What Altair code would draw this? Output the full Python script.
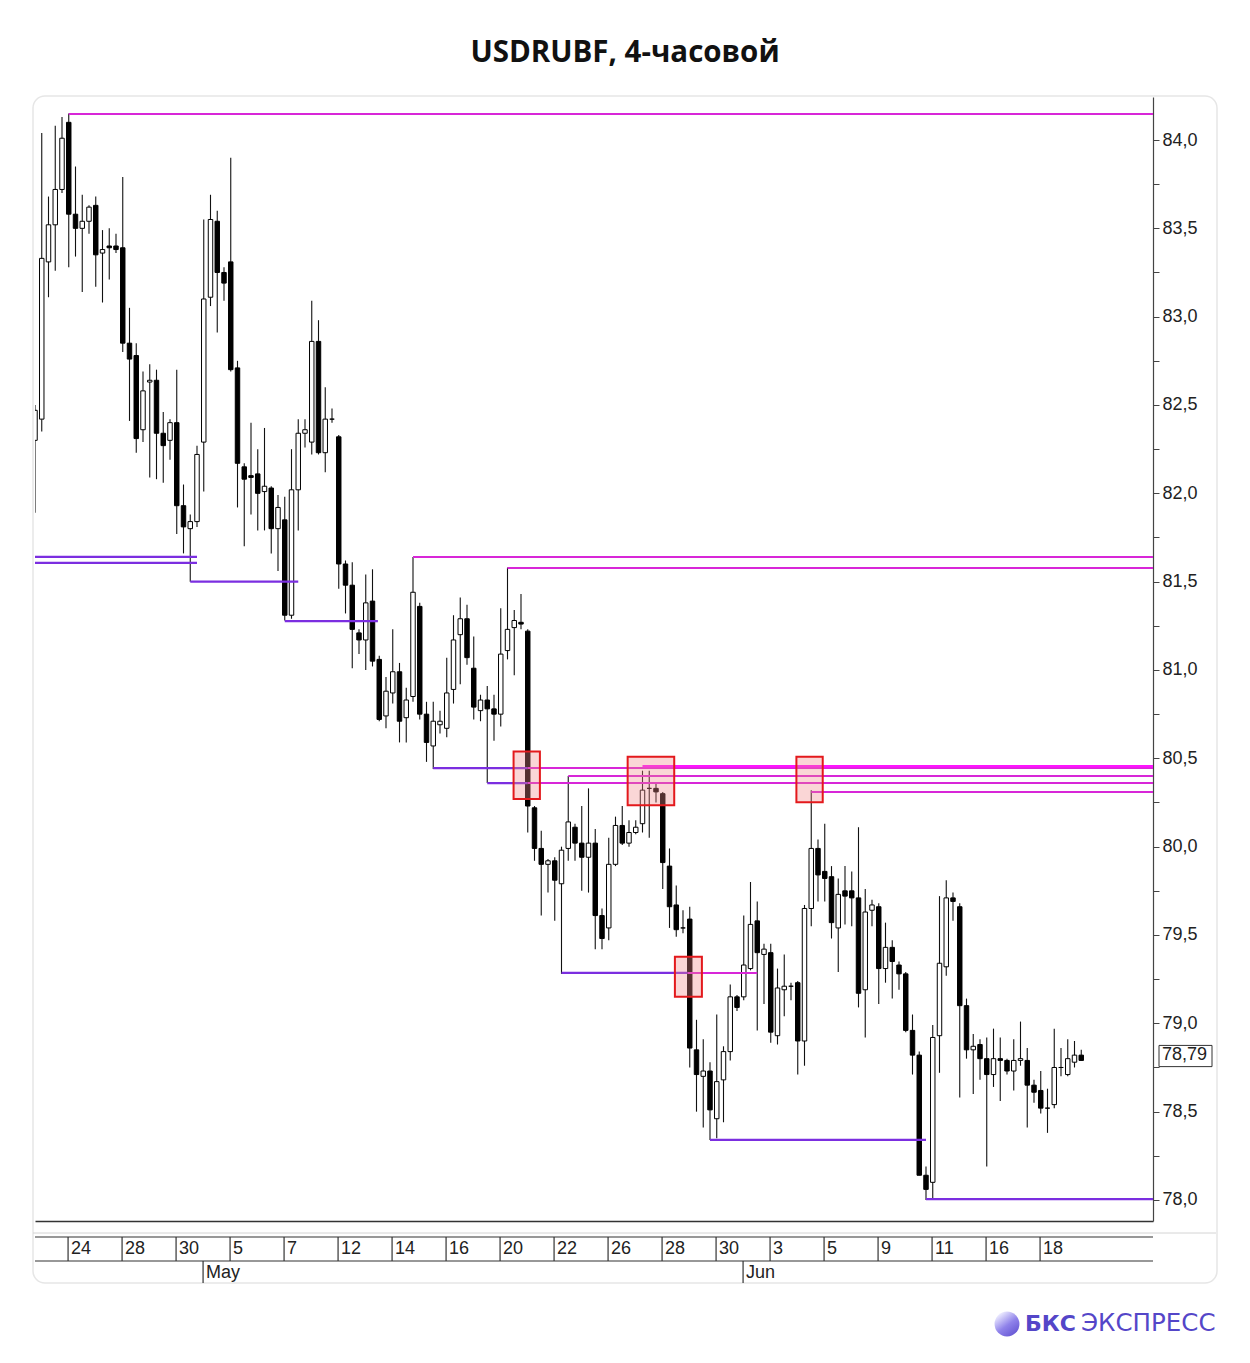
import altair as alt
import pandas as pd

# ---------------- data (4-hour candles) ----------------
opens = [82.30, 82.42, 83.31, 83.52, 83.72, 84.10, 83.58, 83.50, 83.54, 83.63,
         83.36, 83.40, 83.40, 83.39, 82.85, 82.78, 82.36, 82.63, 82.64, 82.34,
         82.30, 82.40, 81.93, 81.80, 81.84, 82.29, 83.11, 83.54, 83.25, 83.31,
         82.71, 82.15, 82.10, 82.11, 82.01, 82.03, 81.80, 81.85, 81.31, 82.02,
         82.34, 82.29, 82.86, 82.23, 82.42, 82.32, 81.60, 81.48, 81.21, 81.17,
         81.39, 81.06, 80.74, 80.87, 80.99, 80.73, 80.85, 81.36, 80.75, 80.57,
         80.69, 80.67, 80.89, 81.20, 81.29, 81.01, 80.77, 80.83, 80.78, 80.75,
         81.11, 81.24, 81.27, 81.22, 80.22, 79.99, 79.90, 79.92, 79.79, 79.99,
         80.11, 80.02, 79.94, 80.02, 79.61, 79.54, 79.90, 80.12, 80.02, 80.08,
         80.13, 80.33, 80.33, 80.30, 79.89, 79.67, 79.54, 79.59, 78.85, 78.70,
         78.73, 78.46, 78.68, 78.84, 79.15, 79.15, 79.31, 79.58, 79.39, 79.40,
         78.93, 79.19, 79.21, 79.23, 78.90, 79.65, 79.99, 79.86, 79.83, 79.54,
         79.75, 79.75, 79.71, 79.19, 79.64, 79.66, 79.31, 79.43, 79.33, 79.28,
         78.96, 78.82, 78.14, 78.10, 78.93, 79.32, 79.71, 79.66, 79.10, 78.85,
         78.88, 78.80, 78.71, 78.80, 78.79, 78.73, 78.79, 78.79, 78.65, 78.62,
         78.52, 78.54, 78.75, 78.71, 78.78, 78.82]
highs = [82.50, 84.04, 83.68, 84.08, 84.13, 84.15, 83.85, 83.69, 83.63, 83.68,
         83.49, 83.50, 83.47, 83.79, 83.05, 82.85, 82.69, 82.73, 82.70, 82.46,
         82.42, 82.70, 82.05, 81.88, 82.27, 83.55, 83.69, 83.60, 83.28, 83.90,
         82.75, 82.17, 82.40, 82.25, 82.37, 82.04, 81.99, 81.98, 82.25, 82.42,
         82.42, 83.09, 82.98, 82.60, 82.48, 82.33, 81.62, 81.61, 81.23, 81.54,
         81.57, 81.08, 80.96, 81.23, 81.04, 80.90, 81.64, 81.38, 80.82, 80.82,
         80.77, 81.07, 81.31, 81.41, 81.37, 81.19, 80.86, 80.91, 80.86, 81.35,
         81.58, 81.34, 81.43, 81.23, 80.23, 80.09, 79.93, 79.94, 80.00, 80.40,
         80.13, 80.23, 80.33, 80.10, 79.65, 80.05, 80.17, 80.23, 80.15, 80.15,
         80.43, 80.43, 80.36, 80.31, 79.99, 79.78, 79.64, 79.66, 79.02, 78.91,
         78.78, 79.05, 78.87, 79.22, 79.16, 79.61, 79.80, 79.69, 79.45, 79.45,
         79.31, 79.39, 79.23, 79.24, 79.67, 80.32, 80.04, 80.13, 79.89, 79.82,
         79.89, 79.86, 80.11, 79.76, 79.70, 79.68, 79.57, 79.47, 79.35, 79.29,
         79.05, 78.84, 78.19, 78.99, 79.72, 79.81, 79.74, 79.68, 79.14, 78.94,
         78.91, 78.92, 78.97, 78.92, 78.80, 78.91, 79.01, 78.86, 78.68, 78.73,
         78.63, 78.97, 78.86, 78.91, 78.90, 78.85]
lows = [81.89, 82.35, 83.11, 83.26, 83.70, 83.28, 83.34, 83.14, 83.47, 83.17,
        83.08, 83.21, 83.36, 82.80, 82.41, 82.23, 82.29, 82.09, 82.08, 82.06,
        82.19, 81.77, 81.66, 81.50, 81.81, 82.01, 83.06, 82.91, 83.09, 82.69,
        81.92, 81.70, 81.88, 81.79, 81.79, 81.66, 81.56, 81.28, 81.29, 81.79,
        82.26, 82.22, 82.22, 82.12, 82.40, 81.46, 81.32, 81.01, 81.09, 81.00,
        81.02, 80.71, 80.67, 80.81, 80.59, 80.59, 80.82, 80.72, 80.48, 80.44,
        80.64, 80.62, 80.81, 80.92, 81.03, 80.72, 80.71, 80.36, 80.60, 80.68,
        81.06, 80.97, 81.23, 80.08, 79.92, 79.61, 79.74, 79.58, 79.28, 79.92,
        79.92, 79.75, 79.74, 79.42, 79.42, 79.47, 79.89, 80.01, 80.00, 80.07,
        80.08, 80.05, 80.25, 79.76, 79.54, 79.49, 79.51, 78.75, 78.50, 78.41,
        78.34, 78.35, 78.44, 78.79, 79.07, 79.13, 79.30, 78.96, 79.11, 78.89,
        78.88, 79.04, 79.13, 78.71, 78.76, 79.55, 79.69, 79.69, 79.48, 79.29,
        79.56, 79.55, 79.09, 78.92, 79.55, 79.11, 79.23, 79.14, 79.19, 78.95,
        78.71, 78.14, 78.00, 78.00, 78.72, 79.27, 79.58, 78.58, 78.80, 78.60,
        78.68, 78.19, 78.64, 78.56, 78.71, 78.62, 78.76, 78.41, 78.55, 78.49,
        78.38, 78.52, 78.70, 78.70, 78.75, 78.79]
closes = [82.47, 83.33, 83.52, 83.72, 84.01, 83.58, 83.50, 83.54, 83.62, 83.35,
          83.38, 83.39, 83.38, 82.85, 82.76, 82.31, 82.58, 82.64, 82.34, 82.27,
          82.40, 81.93, 81.81, 81.84, 82.22, 83.10, 83.55, 83.25, 83.19, 82.70,
          82.17, 82.08, 82.09, 82.00, 82.04, 81.80, 81.92, 81.31, 82.02, 82.34,
          82.36, 82.86, 82.23, 82.42, 82.42, 81.60, 81.48, 81.23, 81.17, 81.38,
          81.05, 80.72, 80.88, 80.99, 80.71, 80.83, 81.44, 80.75, 80.59, 80.71,
          80.71, 80.87, 81.17, 81.29, 81.07, 80.79, 80.83, 80.78, 80.75, 81.09,
          81.23, 81.28, 81.26, 80.23, 79.99, 79.90, 79.92, 79.81, 79.98, 80.14,
          80.02, 79.94, 80.02, 79.61, 79.48, 79.90, 80.12, 80.02, 80.08, 80.11,
          80.32, 80.33, 80.31, 79.91, 79.66, 79.53, 79.54, 78.86, 78.71, 78.73,
          78.51, 78.67, 78.84, 79.15, 79.09, 79.33, 79.56, 79.40, 79.42, 78.95,
          79.20, 79.21, 79.21, 78.90, 79.65, 79.99, 79.84, 79.82, 79.57, 79.73,
          79.72, 79.71, 79.17, 79.63, 79.67, 79.31, 79.43, 79.35, 79.28, 78.96,
          78.82, 78.14, 78.06, 78.92, 79.34, 79.71, 79.69, 79.10, 78.85, 78.87,
          78.80, 78.71, 78.80, 78.79, 78.73, 78.79, 78.80, 78.65, 78.61, 78.52,
          78.52, 78.75, 78.75, 78.80, 78.82, 78.79]

# horizontal levels: price, first candle, last position, kind
level_price = [84.147, 81.640, 81.606, 81.500, 81.277, 81.640, 81.577, 80.445, 80.445,
               80.455, 80.400, 80.360, 80.360, 80.310, 79.285, 79.285, 78.340, 78.005]
level_start = [5, 0, 0, 23, 37, 56, 70, 59, 73, 90, 79, 67, 73, 115, 78, 96.7, 100, 132]
level_end = [165.63, 24, 24, 39, 50.8, 165.63, 165.63, 73, 165.63, 165.63, 165.63, 73,
             165.63, 165.63, 96.7, 107, 132, 165.63]
level_kind = ["res", "sup", "sup", "sup", "sup", "res", "res", "sup", "res",
              "strong", "res", "sup", "res", "res", "sup", "res", "sup", "sup"]

# highlighted zones
box_x1 = [70.9, 87.8, 112.8, 94.8]
box_x2 = [74.8, 94.7, 116.7, 98.8]
box_hi = [80.538, 80.509, 80.509, 79.377]
box_lo = [80.270, 80.234, 80.251, 79.151]

# date axis
tick_pos = [4.9, 12.9, 20.9, 28.9, 36.9, 44.9, 52.9, 60.9, 68.9, 76.9, 84.9, 92.9,
            100.9, 108.9, 116.9, 124.9, 132.9, 140.9, 148.9]
tick_labels = ["24", "28", "30", "5", "7", "12", "14", "16", "20", "22", "26", "28",
               "30", "3", "5", "9", "11", "16", "18"]
month_pos = [24.9, 104.9]
month_labels = ["May", "Jun"]

y_ticks = [78.0, 78.25, 78.5, 78.75, 79.0, 79.25, 79.5, 79.75, 80.0, 80.25, 80.5,
           80.75, 81.0, 81.25, 81.5, 81.75, 82.0, 82.25, 82.5, 82.75, 83.0, 83.25,
           83.5, 83.75, 84.0, 84.25]
last_price = 78.79
title_text = "USDRUBF, 4-часовой"

# ---------------- frames ----------------
candles = pd.DataFrame({"i": list(range(len(opens))), "open": opens, "high": highs,
                        "low": lows, "close": closes})
levels = pd.DataFrame({"p": level_price, "s": level_start, "e": level_end, "kind": level_kind})
boxes = pd.DataFrame({"x1": box_x1, "x2": box_x2, "hi": box_hi, "lo": box_lo})
ticks = pd.DataFrame({"pos": tick_pos, "lbl": tick_labels})
months = pd.DataFrame({"pos": month_pos, "lbl": month_labels})
one = pd.DataFrame({"k": [0]})

W, H = 1118, 1124
xs = alt.Scale(domain=[0, 165.63], nice=False, zero=False)
ys = alt.Scale(domain=[77.8811, 84.2434], nice=False, zero=False)

x_axis = alt.Axis(domain=True, domainColor="#333333", domainWidth=1.5, ticks=False,
                  labels=False, grid=False, title=None)
y_axis = alt.Axis(orient="right", values=y_ticks,
                  labelExpr="(datum.value * 4) % 2 == 0 ? replace(format(datum.value, '.1f'), '.', ',') : ''",
                  tickSize=6, tickColor="#444444", domainColor="#444444", domainWidth=1.2,
                  labelFont="Liberation Sans", labelFontSize=18, labelColor="#222222",
                  labelPadding=3, labelOverlap=False, labelFlush=False, grid=False, title=None)


def X(field):
    return alt.X(field, scale=xs, axis=x_axis, title=None)


def Y(field):
    return alt.Y(field, scale=ys, axis=y_axis, title=None)


panel = alt.Chart(one).mark_rect(fillOpacity=0, stroke="#e6e6e6", strokeWidth=1.5,
                                 cornerRadius=12).encode(
    x=alt.value(-2), x2=alt.value(1182), y=alt.value(-1), y2=alt.value(1186))

wicks = alt.Chart(candles).mark_rule(color="#111111", strokeWidth=1.1, clip=True).encode(
    x=X("i:Q"), y=Y("low:Q"), y2="high:Q")

bodies = alt.Chart(candles).transform_calculate(
    a="datum.i - 0.33", b="datum.i + 0.33"
).mark_rect(stroke="#000000", strokeWidth=1, clip=True).encode(
    x=X("a:Q"), x2="b:Q", y=Y("open:Q"), y2="close:Q",
    fill=alt.condition("datum.close >= datum.open", alt.value("#ffffff"), alt.value("#000000")))

lines = alt.Chart(levels).mark_rule().encode(
    x=X("s:Q"), x2="e:Q", y=Y("p:Q"),
    color=alt.Color("kind:N", scale=alt.Scale(domain=["res", "sup", "strong"],
                                              range=["#d826d8", "#7b2ee0", "#ff14ff"]), legend=None),
    size=alt.Size("kind:N", scale=alt.Scale(domain=["res", "sup", "strong"], range=[2, 2.5, 4]),
                  legend=None))

zones = alt.Chart(boxes).mark_rect(fill="#f08a8a", fillOpacity=0.35, stroke="#e3191c",
                                   strokeWidth=2).encode(
    x=X("x1:Q"), x2="x2:Q", y=Y("lo:Q"), y2="hi:Q")

price_df = pd.DataFrame({"p": [last_price]})
price_box = alt.Chart(price_df).transform_calculate(
    lo="datum.p - 0.035", hi="datum.p + 0.085"
).mark_rect(fillOpacity=0, stroke="#333333", strokeWidth=1).encode(
    x=alt.value(1124), x2=alt.value(1177), y=Y("lo:Q"), y2="hi:Q")
price_txt = alt.Chart(price_df).transform_calculate(
    lbl="replace(format(datum.p, '.2f'), '.', ',')"
).mark_text(align="left", baseline="middle", font="Liberation Sans", fontSize=18,
            color="#222222", dy=-5).encode(
    x=alt.value(1127), y=Y("p:Q"), text="lbl:N")

# date strip
strip_light = alt.Chart(one).mark_rule(color="#d4d4d4", strokeWidth=1).encode(
    x=alt.value(-2), x2=alt.value(1181), y=alt.value(1136))
strip_top = alt.Chart(one).mark_rule(color="#333333", strokeWidth=1.2).encode(
    x=alt.value(0), x2=alt.value(W), y=alt.value(1140))
strip_mid = alt.Chart(one).mark_rule(color="#333333", strokeWidth=1.2).encode(
    x=alt.value(0), x2=alt.value(W), y=alt.value(1164))
tick_rules = alt.Chart(ticks).mark_rule(color="#333333", strokeWidth=1.2).encode(
    x=X("pos:Q"), y=alt.value(1140), y2=alt.value(1164))
tick_text = alt.Chart(ticks).mark_text(align="left", baseline="middle", dx=3,
                                       font="Liberation Sans", fontSize=18,
                                       color="#222222").encode(
    x=X("pos:Q"), y=alt.value(1152), text="lbl:N")
month_rules = alt.Chart(months).mark_rule(color="#333333", strokeWidth=1.2).encode(
    x=X("pos:Q"), y=alt.value(1164), y2=alt.value(1186))
month_text = alt.Chart(months).mark_text(align="left", baseline="middle", dx=3,
                                         font="Liberation Sans", fontSize=18,
                                         color="#222222").encode(
    x=X("pos:Q"), y=alt.value(1176), text="lbl:N")

title = alt.Chart(pd.DataFrame({"t": [title_text]})).mark_text(
    font="Open Sans", fontSize=29.5, fontWeight="bold", color="#111111",
    align="center", baseline="middle").encode(x=alt.value(590), y=alt.value(-44), text="t:N")

# logo
logo_dot = alt.Chart(one).mark_point(
    filled=True, shape="circle", size=620, opacity=1,
    color=alt.LinearGradient(gradient="linear", x1=0.2, y1=0.1, x2=0.8, y2=0.9,
                             stops=[alt.GradientStop(color="#ecebff", offset=0),
                                    alt.GradientStop(color="#8f82ea", offset=0.55),
                                    alt.GradientStop(color="#6a5bd6", offset=1)])
).encode(x=alt.value(972), y=alt.value(1227))
logo_a = alt.Chart(pd.DataFrame({"t": ["БКС"]})).mark_text(
    font="DejaVu Sans", fontSize=22, fontWeight="bold", color="#5446c8",
    align="left", baseline="middle").encode(x=alt.value(990), y=alt.value(1227), text="t:N")
logo_b = alt.Chart(pd.DataFrame({"t": ["ЭКСПРЕСС"]})).mark_text(
    font="DejaVu Sans", fontSize=24.5, color="#5446c8",
    align="left", baseline="middle").encode(x=alt.value(1046), y=alt.value(1227), text="t:N")

chart = alt.layer(
    panel, wicks, bodies, lines, zones, price_box, price_txt,
    strip_light, strip_top, strip_mid, tick_rules, tick_text, month_rules, month_text,
    title, logo_dot, logo_a, logo_b
).properties(
    width=W, height=H,
    autosize=alt.AutoSizeParams(type="none"),
    padding={"left": 27, "top": 89, "right": 89, "bottom": 134},
    background="#ffffff"
).configure_view(stroke=None)

chart.save("out.html", embed_options={"renderer": "svg", "actions": False})
